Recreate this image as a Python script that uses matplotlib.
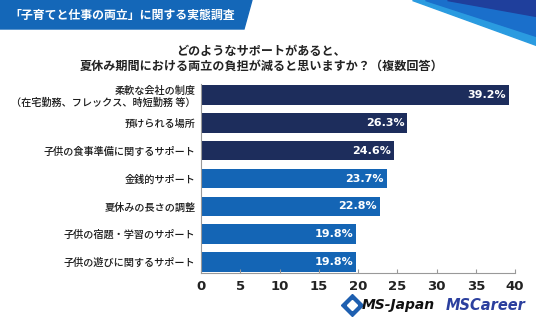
import matplotlib.pyplot as plt
from matplotlib.patches import Polygon

plt.rcParams['font.family'] = ['Noto Sans CJK JP', 'DejaVu Sans']

# data
categories = [
    '柔軟な会社の制度\n（在宅勤務、フレックス、時短勤務 等）',
    '預けられる場所',
    '子供の食事準備に関するサポート',
    '金銭的サポート',
    '夏休みの長さの調整',
    '子供の宿題・学習のサポート',
    '子供の遊びに関するサポート',
]
values = [39.2, 26.3, 24.6, 23.7, 22.8, 19.8, 19.8]
x_ticks = [0, 5, 10, 15, 20, 25, 30, 35, 40]

navy = '#1d2d5c'
blue = '#1465b5'
bar_colors = [navy] * 3 + [blue] * 4

W, H = 536, 331
fig = plt.figure(figsize=(W / 100, H / 100), dpi=100)

# header banner and corner decoration
bg = fig.add_axes([0, 0, 1, 1])
bg.set_xlim(0, W)
bg.set_ylim(H, 0)
bg.axis('off')
bg.add_patch(Polygon([[0, 0], [252, 0], [244, 29], [0, 29]], closed=True, color='#1467b8'))
bg.add_patch(Polygon([[412, 0], [536, 0], [536, 45]], closed=True, color='#2a9be0'))
bg.add_patch(Polygon([[425, 0], [536, 0], [536, 36]], closed=True, color='#1a6fcb'))
bg.add_patch(Polygon([[447, 0], [536, 0], [536, 16]], closed=True, color='#1f3f9c'))
bg.text(9, 15, '「子育てと仕事の両立」に関する実態調査', color='white', fontsize=8.6,
        fontweight='bold', va='center', ha='left')
bg.text(261, 52, 'どのようなサポートがあると、', fontsize=8.7, fontweight='bold',
        color='#222222', ha='center', va='center')
bg.text(262, 66, '夏休み期間における両立の負担が減ると思いますか？（複数回答）', fontsize=8.7,
        fontweight='bold', color='#222222', ha='center', va='center')

# logos
bg.plot([352], [305], marker='D', markersize=11, color='#1e5fb0')
bg.plot([352], [305], marker='D', markersize=5, color='white')
bg.text(362, 305, 'MS-Japan', fontsize=10, fontweight='bold', style='italic',
        family='DejaVu Sans', color='#111111', va='center', ha='left')
bg.text(446, 305, 'MSCareer', fontsize=10.5, fontweight='bold', style='italic',
        family='DejaVu Sans', color='#2b3f9e', va='center', ha='left')

# chart
ax = fig.add_axes([201 / W, 1 - 273 / H, (515 - 201) / W, (273 - 84) / H])
y = list(range(len(categories)))
bars = ax.barh(y, values, height=0.7, color=bar_colors)
for b, v in zip(bars, values):
    ax.text(b.get_width() - 0.4, b.get_y() + b.get_height() / 2, f'{v}%',
            color='white', fontsize=8, fontweight='bold', ha='right', va='center',
            family='DejaVu Sans')

ax.set_ylim(6.4, -0.4)
ax.set_xlim(0, 40)
ax.set_yticks(y)
ax.set_yticklabels(categories, fontsize=7.3, color='#1a1a1a', linespacing=1.15,
                   fontweight='medium')
ax.set_xticks(x_ticks)
ax.set_xticklabels([str(t) for t in x_ticks], fontsize=9.5, fontweight='bold',
                   color='#222222', family='DejaVu Sans')
ax.tick_params(axis='y', length=0, pad=4)
ax.tick_params(axis='x', direction='in', length=3, color='#999999', pad=5)
for s in ['top', 'right']:
    ax.spines[s].set_visible(False)
ax.spines['left'].set_color('#999999')
ax.spines['bottom'].set_color('#999999')
ax.spines['left'].set_linewidth(0.8)
ax.spines['bottom'].set_linewidth(0.8)

fig.savefig('out.png', dpi=100)
